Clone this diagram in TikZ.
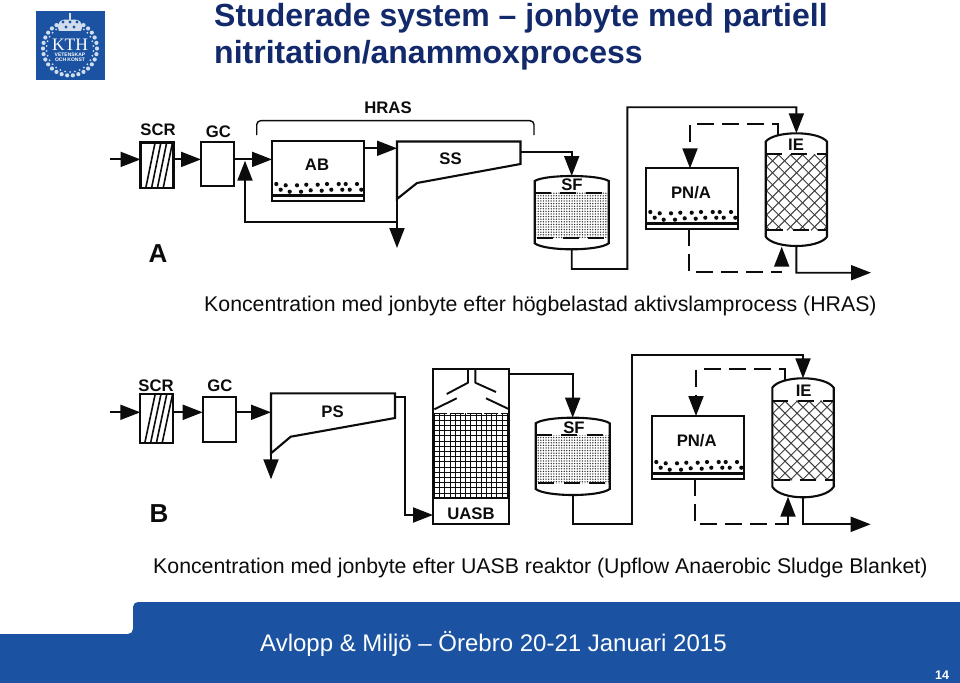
\documentclass[tikz,border=0pt]{standalone}
\usepackage{fontspec}
\setmainfont{Liberation Sans}
\newfontfamily\serifkth{Liberation Serif}
\usetikzlibrary{arrows.meta,patterns.meta}
\definecolor{kthblue}{HTML}{1B53A2}
\definecolor{titleblue}{HTML}{12296B}
\definecolor{ink}{HTML}{0C0C0C}
\tikzset{
  flow/.style={line width=1.9pt,draw=ink,-{Triangle[length=20pt,width=15pt]}},
  flowdash/.style={flow,dash pattern=on 17pt off 8pt},
  pipe/.style={line width=1.9pt,draw=ink},
  pipedash/.style={pipe,dash pattern=on 17pt off 8pt},
  unitbox/.style={draw=ink,line width=2.1pt,fill=white,rectangle,inner sep=0pt,outer sep=0pt},
  tankbox/.style={rectangle,inner sep=0pt,outer sep=0pt},
  lab/.style={font=\fontsize{16.7}{18}\selectfont\bfseries,text=ink,inner sep=0pt},
  biglab/.style={font=\fontsize{26}{28}\selectfont\bfseries,text=ink,inner sep=0pt},
  caption/.style={font=\fontsize{21.3}{24}\selectfont,text=ink,inner sep=0pt,anchor=base west},
  titletxt/.style={font=\fontsize{32}{36}\selectfont\bfseries,text=titleblue,inner sep=0pt,anchor=base west},
  foot/.style={font=\fontsize{24}{28}\selectfont,text=white,inner sep=0pt,anchor=base west},
  logotxt/.style={text=white,inner sep=0pt},
  wreath/.style={fill=white!80!kthblue,draw=none},
}
% box given by its corners
\newcommand\unitnode[5]{\node[unitbox,minimum width={(#4-#2)*1pt},minimum height={(#5-#3)*1pt}] (#1) at ({(#2+#4)/2},{(#3+#5)/2}) {};}
% tank: name x1 x2 top shoulder1 shoulder2 bottom
\newcommand\tankshape[7]{%
  \pgfmathsetmacro\ctop{(4*#4-#5)/3}\pgfmathsetmacro\cbot{(4*#7-#6)/3}%
  \pgfmathsetmacro\xa{#2+(#3-#2)*0.14}\pgfmathsetmacro\xb{#3-(#3-#2)*0.14}%
  \node[tankbox,minimum width={(#3-#2)*1pt},minimum height={(#7-#4)*1pt}] (#1) at ({(#2+#3)/2},{(#4+#7)/2}) {};
  \draw[line width=2.1pt,draw=ink] (#2,#6) -- (#2,#5) .. controls (\xa,\ctop) and (\xb,\ctop) .. (#3,#5) -- (#3,#6) .. controls (\xb,\cbot) and (\xa,\cbot) .. (#2,#6) -- cycle;
}
% biomass dots and bottom bar, relative to bottom-left of a box
\newcommand\sludge[3]{%
  \foreach \dx/\dy in {4.3/17,13.7/15.7,25/15.7,34.3/16.3,45.7/16.3,55/17,66.7/17,73.7/17,85/17,8.7/11.3,17.7/9.3,29/9.3,38.7/10.7,49.7/10.3,59.3/11.3,70.3/11.3,77.7/11.3,89.3/11.3}
    \fill[ink] ({#1+\dx},{#2-\dy}) circle (2.1pt);
  \draw[line width=3.2pt,draw=ink] (#1,#2-5.5) -- ({#1+#3},#2-5.5);
}
\newcommand\hatchrect[4]{%
  \begin{scope}
    \clip (#1,#2) rectangle (#3,#4);
    \foreach \k in {-120,-108,...,120}{
      \draw[line width=1pt,draw=ink!80] ({#1+\k},#2) -- ({#1+\k+(#4-#2)},#4);
      \draw[line width=1pt,draw=ink!80] ({#3-\k},#2) -- ({#3-\k-(#4-#2)},#4);
    }
  \end{scope}}
\newcommand\gravel[4]{\fill[pattern={Dots[distance=2.6pt,radius=.75pt]},pattern color=ink!85] (#1,#2) rectangle (#3,#4);}
\newcommand\baredash[3]{\draw[line width=2pt,draw=ink,dash pattern=on 16pt off 9.5pt] (#1,#3) -- (#2,#3);}
\begin{document}
\begin{tikzpicture}[x=1pt,y=-1pt]
\useasboundingbox (0,0) rectangle (960,682);
\fill[white] (0,0) rectangle (960,682);

% footer band
\fill[kthblue,rounded corners=5pt] (-20,634) -- (133,634) -- (133,602) -- (980,602) -- (980,700) -- (-20,700) -- cycle;
\node[foot] (footer) at (260,651) {Avlopp \& Miljö – Örebro 20-21 Januari 2015};
\node[font=\fontsize{12.5}{14}\selectfont\bfseries,text=white,inner sep=0pt] (pageno) at (942,675) {14};

% logo
\fill[kthblue] (35.7,10.7) rectangle (104.7,80.3);
\foreach \a in {-60,-48,...,240}{
  \fill[wreath] ({70+27*cos(\a)},{48.5+27*sin(\a+180)*-1}) circle (2.1pt);
  \fill[wreath] ({70+23.5*cos(\a+6)},{48.5+23.5*sin(\a+186)*-1}) circle (1pt);
}
\fill[wreath] (59,31) .. controls (55,22) and (62,18) .. (70,20) .. controls (78,18) and (85,22) .. (81,31) -- cycle;
\fill[kthblue] (63,22) circle (1.6pt) (70,22) circle (1.6pt) (77,22) circle (1.6pt) (66,27) circle (1.6pt) (74,27) circle (1.6pt);
\fill[wreath] (69.2,13.5) rectangle (70.8,20);
\node[logotxt,font=\serifkth\fontsize{17.5}{18}\selectfont] (kth) at (70,44.5) {KTH};
\node[logotxt,font=\fontsize{5}{6}\selectfont\bfseries] (vet) at (70,54.3) {VETENSKAP};
\node[logotxt,font=\fontsize{5}{6}\selectfont\bfseries] (och) at (70,59.3) {OCH KONST};

% title and captions
\node[titletxt] (title1) at (214,26.5) {Studerade system – jonbyte med partiell};
\node[titletxt] (title2) at (214,64) {nitritation/anammoxprocess};
\node[caption] (capA) at (204,311) {Koncentration med jonbyte efter högbelastad aktivslamprocess (HRAS)};
\node[caption] (capB) at (153,573) {Koncentration med jonbyte efter UASB reaktor (Upflow Anaerobic Sludge Blanket)};

%%%%%%%%%%% Panel A
\node[biglab] (letA) at (158,254) {A};
\node[lab] (hras) at (388,108) {HRAS};
\node[lab] (scrAl) at (158,129.5) {SCR};
\node[lab] (gcAl) at (218.5,131.5) {GC};
\coordinate (inA) at (110,159.4);
\unitnode{scrA}{140.5}{142.5}{173.5}{188}
\unitnode{gcA}{201}{142}{234}{186}
\unitnode{abA}{272}{141}{364}{201}
\foreach \o in {0,1,2,3}{
  \draw[line width=1.6pt,draw=ink] ({146+\o*5.8},187) -- ({155+\o*5.8},143);
}
\sludge{272}{201}{92}
\node[lab] (abAl) at (317,165) {AB};
% SS clarifier
\coordinate (ssA1) at (397,141.5);
\coordinate (ssA2) at (520.5,141.5);
\coordinate (ssA3) at (520.5,164);
\coordinate (ssA4) at (417,183);
\coordinate (ssA5) at (397,199);
\draw[line width=2.1pt,draw=ink,line join=miter] (ssA1) -- (ssA2) -- (ssA3) -- (ssA4) -- (ssA5) -- cycle;
\node[lab] (ssAl) at (450.5,159) {SS};
% brace
\coordinate (brL) at (256.7,135);
\coordinate (brR) at (534,135);
\draw[line width=1.4pt,draw=ink,rounded corners=4pt] (brL) -- (256.7,120.7) -- (534,120.7) -- (brR);
% tanks A
\gravel{535.5}{192.7}{608}{238.3}
\tankshape{sfA}{534.7}{608.7}{176}{181}{243.3}{249.3}
\baredash{534.7}{608.7}{192.7}
\baredash{537}{608.7}{238.3}
\node[lab] (sfAl) at (572,185) {SF};
\hatchrect{766}{154.3}{827}{230.3}
\tankshape{ieA}{765.7}{827}{133.3}{141.7}{236.7}{246}
\baredash{765.7}{827}{154.3}
\baredash{767}{827}{230.3}
\node[lab] (ieAl) at (796,145) {IE};
\unitnode{pnA}{646}{168.3}{737.7}{229}
\sludge{646}{229}{91.7}
\node[lab] (pnAl) at (691,192.5) {PN/A};
% connectors A
\draw[flow] (inA) -- (scrA.west |- inA);
\draw[flow] (scrA.east |- inA) -- (gcA.west |- inA);
\draw[flow] (gcA.east |- inA) -- (abA.west |- inA);
\coordinate (abOut) at (364,148.3);
\draw[flow] (abOut) -- (ssA1 |- abOut);
\coordinate (wasA) at (397,248);
\draw[flow] (ssA5) -- (wasA);
\coordinate (recA) at (397,221.7);
\coordinate (recB) at (245,221.7);
\coordinate (recT) at (245,160.7);
\draw[flow] (recA) -- (recB) -- (recT);
\coordinate (ssOutA) at (520.5,151.7);
\draw[flow] (ssOutA) -| (sfA.north);
\coordinate (topA1) at (571.7,269);
\coordinate (topA2) at (627.3,269);
\coordinate (topA3) at (627.3,107.3);
\coordinate (topA4) at (796.35,107.3);
\draw[flow] (sfA.south) -- (topA1) -- (topA2) -- (topA3) -- (topA4) -- (ieA.north);
\coordinate (dashA1) at (778.3,135);
\coordinate (dashA2) at (778.3,124.3);
\coordinate (dashA3) at (690,124.3);
\draw[flowdash] (dashA1) -- (dashA2) -- (dashA3) -- (dashA3 |- pnA.north);
\coordinate (dashA4) at (688.7,271.7);
\coordinate (dashA5) at (781.7,271.7);
\coordinate (dashA6) at (781.7,246.7);
\draw[pipedash] (pnA.south -| dashA4) -- (dashA4) -- (dashA5);
\draw[flow] (781.7,263) -- (dashA6);
\coordinate (outA1) at (796.35,272.7);
\coordinate (outA2) at (871,272.7);
\draw[flow] (ieA.south) -- (outA1) -- (outA2);

%%%%%%%%%%% Panel B
\node[biglab] (letB) at (159,513.5) {B};
\node[lab] (scrBl) at (156,386) {SCR};
\node[lab] (gcBl) at (220,386) {GC};
\coordinate (inB) at (110,412.3);
\unitnode{scrB}{140.3}{394.3}{173.3}{442.7}
\unitnode{gcB}{202.7}{396.7}{235.7}{442.3}
\foreach \o in {0,1,2,3}{
  \draw[line width=1.6pt,draw=ink] ({145+\o*5.8},442) -- ({155+\o*5.8},395);
}
% PS
\coordinate (psB1) at (271,393.3);
\coordinate (psB2) at (395,393.3);
\coordinate (psB3) at (395,418);
\coordinate (psB4) at (290.7,436.7);
\coordinate (psB5) at (271,453.3);
\draw[line width=2.1pt,draw=ink] (psB1) -- (psB2) -- (psB3) -- (psB4) -- (psB5) -- cycle;
\node[lab] (psBl) at (332.5,412) {PS};
% UASB
\unitnode{uasb}{433}{369}{509.3}{524.3}
\begin{scope}
  \clip (433.8,413.3) rectangle (508.5,498.3);
  \foreach \xx in {434.5,439.7,...,510} \draw[line width=1pt,draw=ink] (\xx,413) -- (\xx,499);
  \foreach \yy in {415,420.2,...,499} \draw[line width=1pt,draw=ink] (433,\yy) -- (510,\yy);
\end{scope}
\draw[line width=2pt,draw=ink] (433,498.3) -- (509.3,498.3);
\draw[line width=1.6pt,draw=ink,dash pattern=on 14pt off 3pt] (433,413.3) -- (509.3,413.3);
\draw[line width=1.9pt,draw=ink,line join=round] (468,369) -- (468,382.7) -- (446.7,394);
\draw[line width=1.9pt,draw=ink,line join=round] (475.3,369) -- (475.3,382.7) -- (496,392);
\draw[line width=1.9pt,draw=ink] (434.3,409.3) -- (456.7,398.3);
\draw[line width=1.9pt,draw=ink] (509.3,409.3) -- (486,398.3);
\node[lab] (uasbl) at (471,513.3) {UASB};
% tanks B
\gravel{536.5}{435}{609}{483.3}
\tankshape{sfB}{535.7}{609.7}{417.7}{423.3}{489}{495}
\baredash{535.7}{609.7}{435}
\baredash{538}{609.7}{483.3}
\node[lab] (sfBl) at (574,428) {SF};
\hatchrect{772.5}{400.7}{833.5}{480.3}
\tankshape{ieB}{772.3}{833.7}{378.3}{387.7}{486.7}{497.3}
\baredash{772.3}{833.7}{400.7}
\baredash{774}{833.7}{480.3}
\node[lab] (ieBl) at (803.7,390.7) {IE};
\unitnode{pnB}{652}{416}{744}{479}
\sludge{652}{479}{92}
\node[lab] (pnBl) at (696.7,441) {PN/A};
% connectors B
\draw[flow] (inB) -- (scrB.west |- inB);
\draw[flow] (scrB.east |- inB) -- (gcB.west |- inB);
\draw[flow] (gcB.east |- inB) -- (psB1 |- inB);
\coordinate (wasB) at (271,479.3);
\draw[flow] (psB5) -- (wasB);
\coordinate (psOut) at (395,397.3);
\coordinate (psOut2) at (405,397.3);
\coordinate (psOut3) at (405,515);
\draw[flow] (psOut) -- (psOut2) -- (psOut3) -- (uasb.west |- psOut3);
\coordinate (uOut) at (509.3,374.3);
\draw[flow] (uOut) -| (sfB.north);
\coordinate (topB1) at (572.7,524.3);
\coordinate (topB2) at (631.7,524.3);
\coordinate (topB3) at (631.7,355);
\coordinate (topB4) at (803,355);
\draw[flow] (sfB.south) -- (topB1) -- (topB2) -- (topB3) -- (topB4) -- (ieB.north);
\coordinate (dashB1) at (785,380);
\coordinate (dashB2) at (785,369.3);
\coordinate (dashB3) at (696,369.3);
\draw[flowdash] (dashB1) -- (dashB2) -- (dashB3) -- (dashB3 |- pnB.north);
\coordinate (dashB4) at (694.7,524);
\coordinate (dashB5) at (788,524);
\draw[pipedash] (pnB.south -| dashB4) -- (dashB4) -- (dashB5);
\coordinate (dashB6) at (788,496.7);
\draw[flow] (788,525) -- (dashB6);
\coordinate (outB1) at (803,524.3);
\coordinate (outB2) at (870.7,524.3);
\draw[flow] (ieB.south) -- (outB1) -- (outB2);
\end{tikzpicture}
\end{document}
